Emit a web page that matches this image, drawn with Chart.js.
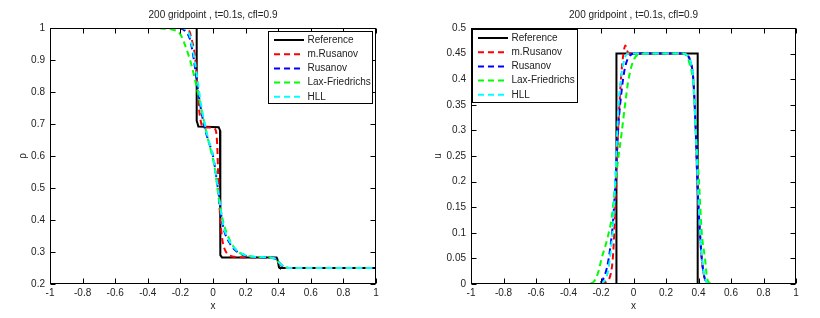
<!DOCTYPE html>
<html>
<head>
<meta charset="utf-8">
<script src="https://cdn.jsdelivr.net/npm/chart.js@4.4.1/dist/chart.umd.min.js"></script>
<style>
    body { margin: 0; background: #fff; }
    #wrap { position: relative; width: 820px; height: 318px; }
    canvas { position: absolute; top: 0; }
</style>
</head>
<body>
<div id="wrap">
    <canvas id="rho-chart" width="410" height="318" style="left:0"></canvas>
    <canvas id="u-chart" width="410" height="318" style="left:410px"></canvas>
</div>
<script>
// series names / colours (same in both plots)
const seriesNames = ['Reference', 'm.Rusanov', 'Rusanov', 'Lax-Friedrichs', 'HLL'];
const seriesColors = ['#000000', '#ff0000', '#0000ff', '#00ff00', '#00ffff'];

// density
const rhoRefX = [-1, -0.1, -0.1, -0.094, -0.09, 0.035, 0.043, 0.045, 0.055, 0.39, 0.395, 0.405, 0.41, 1];
const rhoRefY = [1, 1, 0.71, 0.70, 0.692, 0.69, 0.68, 0.29, 0.283, 0.283, 0.278, 0.252, 0.25, 0.25];
const rhoMRusX = [-1, -0.18, -0.15, -0.13, -0.11, -0.1, -0.09, -0.08, -0.06, -0.03, 0.0, 0.012, 0.022, 0.027, 0.031, 0.036, 0.043, 0.05, 0.06, 0.075, 0.1, 0.13, 0.2, 0.37, 0.39, 0.41, 0.43, 0.45, 1];
const rhoMRusY = [1, 1, 0.995, 0.963, 0.91, 0.85, 0.775, 0.723, 0.69, 0.689, 0.688, 0.685, 0.665, 0.62, 0.55, 0.47, 0.42, 0.37, 0.33, 0.305, 0.29, 0.285, 0.283, 0.282, 0.276, 0.262, 0.252, 0.25, 0.25];
const rhoRusX = [-1, -0.22, -0.17, -0.14, -0.12, -0.1, -0.08, -0.055, -0.03, 0.0, 0.03, 0.06, 0.1, 0.15, 0.2, 0.25, 0.36, 0.39, 0.42, 0.45, 0.48, 1];
const rhoRusY = [1, 1, 0.99, 0.963, 0.91, 0.838, 0.765, 0.697, 0.65, 0.60, 0.50, 0.385, 0.33, 0.30, 0.288, 0.284, 0.282, 0.277, 0.259, 0.251, 0.25, 0.25];
const rhoLfX = [-1, -0.35, -0.3, -0.25, -0.2, -0.16, -0.13, -0.1, -0.07, -0.04, -0.01, 0.01, 0.035, 0.06, 0.1, 0.15, 0.2, 0.25, 0.35, 0.38, 0.41, 0.44, 0.47, 1];
const rhoLfY = [1, 1, 0.998, 0.995, 0.98, 0.93, 0.88, 0.815, 0.744, 0.672, 0.61, 0.565, 0.47, 0.40, 0.34, 0.303, 0.29, 0.285, 0.283, 0.278, 0.265, 0.254, 0.25, 0.25];
const rhoHllX = [-1, -0.2, -0.15, -0.13, -0.11, -0.09, -0.07, -0.05, -0.03, 0.0, 0.03, 0.06, 0.1, 0.15, 0.2, 0.25, 0.36, 0.39, 0.42, 0.45, 0.48, 1];
const rhoHllY = [1, 1, 0.985, 0.95, 0.89, 0.82, 0.75, 0.70, 0.655, 0.60, 0.50, 0.39, 0.335, 0.303, 0.29, 0.285, 0.282, 0.277, 0.259, 0.251, 0.25, 0.25];

// velocity
const uRefX = [-1, -0.105, -0.105, 0.395, 0.395, 1];
const uRefY = [0, 0, 0.45, 0.45, 0, 0];
const uMRusX = [-1, -0.2, -0.17, -0.14, -0.125, -0.115, -0.105, -0.095, -0.085, -0.075, -0.062, -0.05, -0.04, -0.025, 0.0, 0.3, 0.33, 0.35, 0.368, 0.383, 0.393, 0.409, 0.42, 0.435, 0.45, 0.47, 1];
const uMRusY = [0, 0, 0.004, 0.02, 0.06, 0.13, 0.22, 0.30, 0.36, 0.41, 0.45, 0.466, 0.456, 0.45, 0.45, 0.45, 0.447, 0.435, 0.40, 0.30, 0.20, 0.10, 0.05, 0.015, 0.004, 0, 0];
const uRusX = [-1, -0.22, -0.19, -0.165, -0.145, -0.124, -0.108, -0.093, -0.073, -0.052, -0.022, 0.009, 0.3, 0.33, 0.35, 0.368, 0.383, 0.393, 0.409, 0.42, 0.435, 0.45, 0.47, 1];
const uRusY = [0, 0, 0.008, 0.03, 0.066, 0.13, 0.22, 0.31, 0.378, 0.423, 0.446, 0.45, 0.45, 0.447, 0.435, 0.40, 0.30, 0.20, 0.10, 0.05, 0.015, 0.003, 0, 0];
const uLfX = [-1, -0.3, -0.247, -0.22, -0.196, -0.16, -0.134, -0.114, -0.094, -0.073, -0.052, -0.032, -0.001, 0.04, 0.1, 0.3, 0.327, 0.345, 0.368, 0.383, 0.403, 0.42, 0.44, 0.452, 0.47, 0.49, 1];
const uLfY = [0, 0, 0.004, 0.02, 0.05, 0.09, 0.13, 0.19, 0.245, 0.295, 0.35, 0.397, 0.436, 0.449, 0.45, 0.45, 0.446, 0.43, 0.39, 0.30, 0.20, 0.10, 0.05, 0.013, 0.002, 0, 0];
const uHllX = [-1, -0.2, -0.18, -0.165, -0.145, -0.125, -0.11, -0.093, -0.078, -0.067, -0.055, -0.042, -0.02, 0.3, 0.33, 0.35, 0.368, 0.383, 0.395, 0.41, 0.422, 0.437, 0.452, 0.47, 1];
const uHllY = [0, 0, 0.006, 0.014, 0.05, 0.12, 0.22, 0.345, 0.40, 0.423, 0.44, 0.449, 0.45, 0.45, 0.447, 0.435, 0.40, 0.30, 0.20, 0.10, 0.05, 0.015, 0.003, 0, 0];

const titleText = '200 gridpoint , t=0.1s, cfl=0.9';
const textColor = '#222';
const fontFamily = '"Liberation Sans", Arial, Helvetica, sans-serif';

const toPoints = (xs, ys) => xs.map((x, i) => ({ x: x, y: ys[i] }));
const fmt = (v) => String(Math.round(v * 1000) / 1000);

const makeDatasets = (pairs) => pairs.map((p, i) => ({
    label: seriesNames[i],
    data: toPoints(p[0], p[1]),
    borderColor: seriesColors[i],
    borderWidth: 2,
    borderDash: i === 0 ? [] : [6, 4],
    pointRadius: 0,
    fill: false,
    tension: 0,
    cubicInterpolationMode: i === 0 ? 'default' : 'monotone',
    order: seriesNames.length - i
}));

// matlab style frame: title, box, inward ticks, boxed legend
const framePlugin = {
    id: 'frame',
    afterDraw(chart, args, opts) {
        const { ctx, chartArea: a, scales } = chart;
        const L = Math.round(a.left) + 0.5, R = Math.round(a.right) - 0.5;
        const T = Math.round(a.top) + 0.5, B = Math.round(a.bottom) - 0.5;
        ctx.save();
        ctx.fillStyle = textColor;
        ctx.font = '10px ' + fontFamily;
        ctx.textAlign = 'center';
        ctx.textBaseline = 'middle';
        ctx.fillText(opts.title, (a.left + a.right) / 2, 15);

        ctx.strokeStyle = '#000';
        ctx.lineWidth = 1;
        ctx.setLineDash([]);
        ctx.strokeRect(L, T, R - L, B - T);
        ctx.beginPath();
        scales.x.ticks.forEach(t => {
            const px = Math.round(scales.x.getPixelForValue(t.value)) + 0.5;
            ctx.moveTo(px, B); ctx.lineTo(px, B - 5);
            ctx.moveTo(px, T); ctx.lineTo(px, T + 5);
        });
        scales.y.ticks.forEach(t => {
            const py = Math.round(scales.y.getPixelForValue(t.value)) + 0.5;
            ctx.moveTo(L, py); ctx.lineTo(L + 5, py);
            ctx.moveTo(R, py); ctx.lineTo(R - 5, py);
        });
        ctx.stroke();

        const lg = opts.legend;
        const x0 = Math.round(lg.side === 'right' ? a.right - lg.gap - lg.width : a.left + lg.gap) + 0.5;
        const y0 = Math.round(a.top + lg.top) + 0.5;
        ctx.fillStyle = '#fff';
        ctx.fillRect(x0, y0, lg.width, lg.height);
        ctx.strokeRect(x0, y0, lg.width, lg.height);
        ctx.textAlign = 'left';
        chart.data.datasets.forEach((ds, i) => {
            const y = y0 + 8.5 + i * 14.2;
            ctx.strokeStyle = ds.borderColor;
            ctx.lineWidth = 2;
            ctx.setLineDash(ds.borderDash);
            ctx.beginPath();
            ctx.moveTo(x0 + 5.5, y);
            ctx.lineTo(x0 + 35.5, y);
            ctx.stroke();
            ctx.fillStyle = textColor;
            ctx.fillText(ds.label, x0 + 39, y);
        });
        ctx.restore();
    }
};

const makeChart = (id, pairs, yMin, yMax, yStep, yLabel, yWidth, rightPad, legend) => {
    const ctx = document.getElementById(id).getContext('2d');
    const tickFont = { family: fontFamily, size: 10 };
    return new Chart(ctx, {
        type: 'line',
        data: { datasets: makeDatasets(pairs) },
        plugins: [framePlugin],
        options: {
            responsive: false,
            animation: false,
            layout: { padding: { left: 0, top: 28, right: rightPad, bottom: 0 } },
            plugins: {
                legend: { display: false },
                tooltip: { enabled: false },
                frame: { title: titleText, legend: legend }
            },
            scales: {
                x: {
                    type: 'linear',
                    min: -1,
                    max: 1,
                    ticks: { stepSize: 0.2, callback: fmt, padding: 3, color: textColor, font: tickFont, maxRotation: 0, autoSkip: false },
                    grid: { display: false, drawTicks: false },
                    border: { display: false },
                    title: { display: true, text: 'x', color: textColor, font: tickFont, padding: { top: 0, bottom: 6 } },
                    afterFit: (scale) => { scale.height = 34; }
                },
                y: {
                    type: 'linear',
                    min: yMin,
                    max: yMax,
                    ticks: { stepSize: yStep, callback: fmt, padding: 5, color: textColor, font: tickFont, autoSkip: false },
                    grid: { display: false, drawTicks: false },
                    border: { display: false },
                    title: { display: true, text: yLabel, color: textColor, font: tickFont, padding: { top: yWidth === 50 ? 17 : 22, bottom: 0 } },
                    afterFit: (scale) => { scale.width = yWidth; }
                }
            }
        }
    });
};

makeChart('rho-chart',
    [[rhoRefX, rhoRefY], [rhoMRusX, rhoMRusY], [rhoRusX, rhoRusY], [rhoLfX, rhoLfY], [rhoHllX, rhoHllY]],
    0.2, 1, 0.1, 'ρ', 50, 34,
    { side: 'right', gap: 4, top: 3, width: 104, height: 72 });

makeChart('u-chart',
    [[uRefX, uRefY], [uMRusX, uMRusY], [uRusX, uRusY], [uLfX, uLfY], [uHllX, uHllY]],
    0, 0.5, 0.05, 'u', 61, 24,
    { side: 'left', gap: 1, top: 1, width: 105, height: 73 });
</script>
</body>
</html>
